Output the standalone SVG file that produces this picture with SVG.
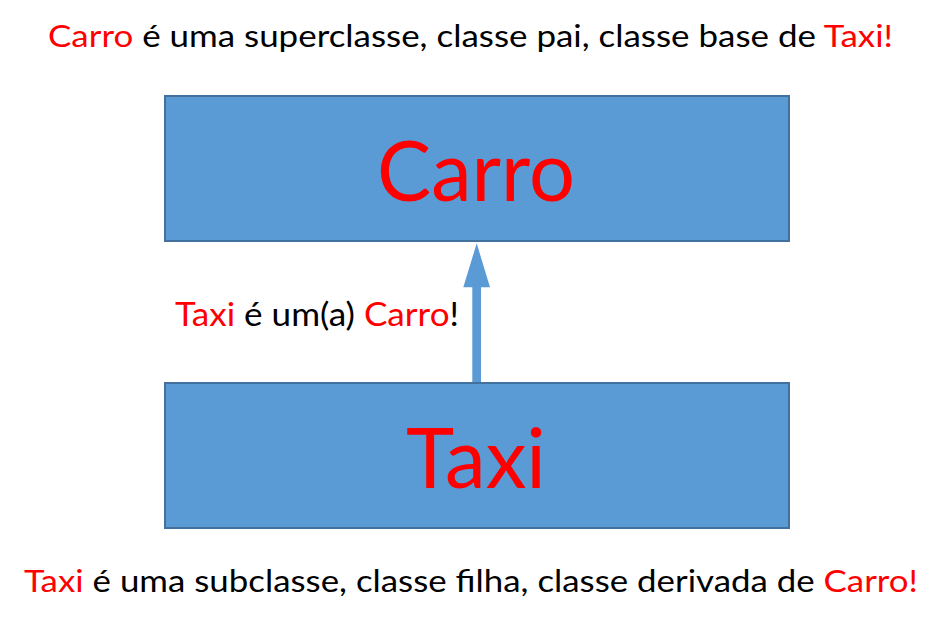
<svg xmlns="http://www.w3.org/2000/svg" width="945" height="627" viewBox="0 0 945 627">
<style>
.box{fill:#5B9BD5;stroke:#41719C;stroke-width:2}
.t{font-family:Lato,"Liberation Sans",sans-serif;fill:#000}
.r{fill:#FF0000}
.big{font-size:83px;fill:#FF0000;text-anchor:middle}
.cap{font-size:31px}
.mid{font-size:32px}
</style>
<rect width="945" height="627" fill="#fff"/>
<text class="t cap" x="48" y="47" textLength="845" lengthAdjust="spacingAndGlyphs"><tspan class="r">Carro</tspan> é uma superclasse, classe pai, classe base de <tspan class="r">Taxi!</tspan></text>
<g id="carro">
<rect class="box" x="165" y="96" width="624" height="145"/>
<text class="t big" x="476" y="201" textLength="198" lengthAdjust="spacingAndGlyphs">Carro</text>
</g>
<g id="taxi">
<rect class="box" x="165" y="383" width="624" height="145"/>
<text class="t big" x="476" y="488" textLength="140" lengthAdjust="spacingAndGlyphs">Taxi</text>
</g>
<g id="connectors">
<path d="M472.3 382 L472.3 287.3 L463.3 287.3 L476.7 243.3 L490 287.3 L481 287.3 L481 382 Z" fill="#5B9BD5"/>
<text class="t mid" x="175" y="326" textLength="284" lengthAdjust="spacingAndGlyphs"><tspan class="r">Taxi</tspan> é um(a) <tspan class="r">Carro</tspan>!</text>
</g>
<text class="t cap" x="24" y="592" textLength="894" lengthAdjust="spacingAndGlyphs"><tspan class="r">Taxi</tspan> é uma subclasse, classe filha, classe derivada de <tspan class="r">Carro!</tspan></text>
</svg>
